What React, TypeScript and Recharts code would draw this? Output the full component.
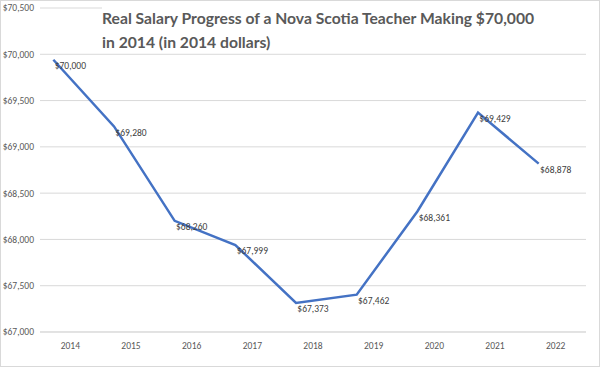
import { LineChart, Line, XAxis, YAxis, CartesianGrid, LabelList } from 'recharts';

const YEARS = [2014, 2015, 2016, 2017, 2018, 2019, 2020, 2021, 2022];
const SALARY = [70000, 69280, 68260, 67999, 67373, 67462, 68361, 69429, 68878];
const Y_TICKS = [67000, 67500, 68000, 68500, 69000, 69500, 70000, 70500];

const TITLE_LINES = [
  'Real Salary Progress of a Nova Scotia Teacher Making $70,000',
  'in 2014 (in 2014 dollars)',
];

// the drawn line sits a little left of / below where the labels are
const LINE_X_DOMAIN = [2013.78, 2022.78];
const LINE_Y_DOMAIN = [67059, 70559];

const FONT = "Calibri, Carlito, 'Liberation Sans', sans-serif";

const data = YEARS.map((year, i) => ({ year, salary: SALARY[i] }));

function money(v: number) {
  return '$' + v.toLocaleString('en-US');
}

export default function App() {
  return (
    <div
      style={{
        position: 'fixed', top: 0, left: 0, width: 600, height: 367,
        boxSizing: 'border-box', border: '1px solid #d9d9d9', background: '#fff',
        fontFamily: FONT,
      }}
    >
      <div style={{ position: 'absolute', top: -1, left: -1 }}>
        <LineChart width={600} height={367} data={data} margin={{ top: 8, right: 14, left: 0, bottom: 10 }}>
          <CartesianGrid vertical={false} stroke="#d9d9d9" />
          <XAxis
            dataKey="year"
            type="category"
            scale="band"
            height={25}
            tickLine={false}
            tickSize={0}
            tickMargin={10}
            axisLine={{ stroke: '#d9d9d9' }}
            tick={{ fontSize: 9.5, fill: '#595959', fontFamily: FONT }}
          />
          <XAxis xAxisId="shift" dataKey="year" type="number" domain={LINE_X_DOMAIN} allowDataOverflow hide />
          <YAxis
            width={40}
            domain={[67000, 70500]}
            ticks={Y_TICKS}
            tickFormatter={money}
            axisLine={false}
            tickLine={false}
            tickSize={0}
            tickMargin={6}
            tick={{ fontSize: 9.5, fill: '#595959', fontFamily: FONT }}
          />
          <YAxis yAxisId="shift" domain={LINE_Y_DOMAIN} allowDataOverflow hide />
          <Line
            xAxisId="shift"
            yAxisId="shift"
            dataKey="salary"
            stroke="#4472C4"
            strokeWidth={2.5}
            dot={false}
            activeDot={false}
            isAnimationActive={false}
          />
          <Line dataKey="salary" stroke="none" dot={false} activeDot={false} isAnimationActive={false}>
            <LabelList
              dataKey="salary"
              position="bottom"
              offset={8}
              formatter={(v: any) => money(Number(v))}
              style={{ fontSize: 9.5, fill: '#404040', fontFamily: FONT }}
            />
          </Line>
        </LineChart>
      </div>
      <div
        style={{
          position: 'absolute', left: 101, top: 3, width: 488, height: 47,
          background: '#fff', color: '#595959', fontFamily: 'Lato, sans-serif',
          fontWeight: 700, fontSize: 15.7, lineHeight: '24px', paddingTop: 2,
          boxSizing: 'border-box',
        }}
      >
        {TITLE_LINES.map((t) => (
          <div key={t} style={{ whiteSpace: 'nowrap' }}>{t}</div>
        ))}
      </div>
    </div>
  );
}
